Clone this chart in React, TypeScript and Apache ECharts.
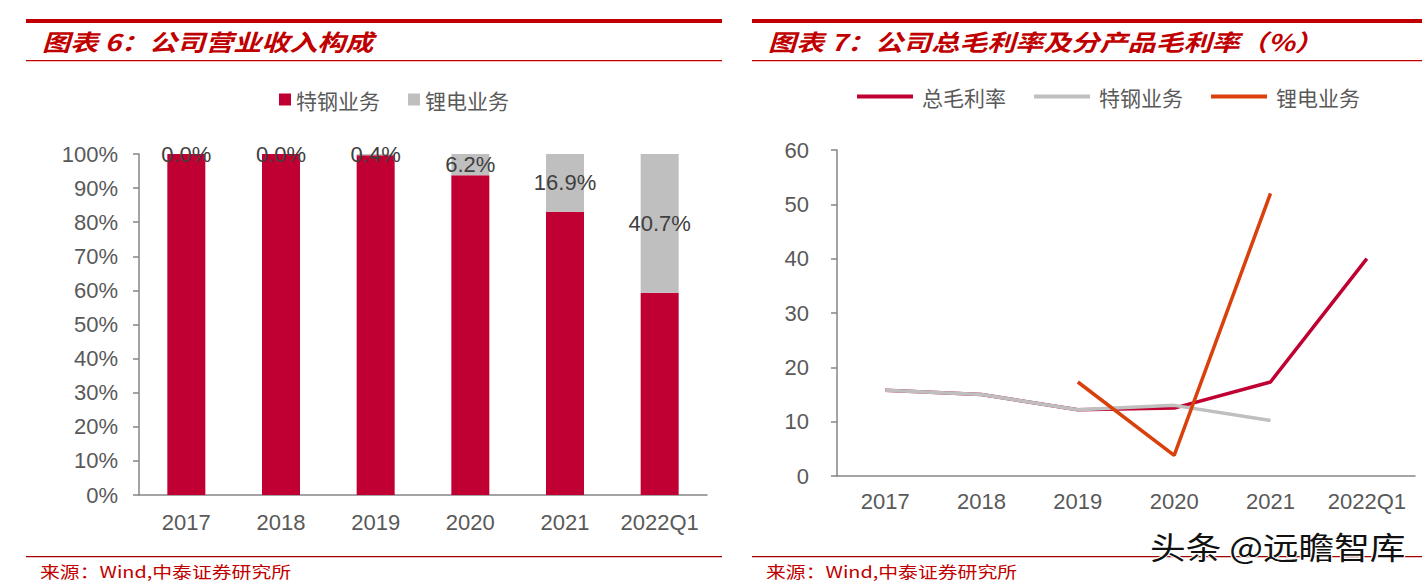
import React, { useEffect, useRef } from "react";
import * as echarts from "echarts";

const barCategories = ["2017", "2018", "2019", "2020", "2021", "2022Q1"];
const steelShare = [100, 100, 99.6, 93.8, 83.1, 59.3];
const lithiumShare = [0, 0, 0.4, 6.2, 16.9, 40.7];

const lineCategories = ["2017", "2018", "2019", "2020", "2021", "2022Q1"];
const totalMargin = [15.8, 15.0, 12.2, 12.5, 17.3, 40.0];
const steelMargin = [15.8, 15.0, 12.2, 13.0, 10.2, null];
const lithiumMargin = [null, null, 17.3, 3.8, 52.0, null];

const leftTicks = [0, 100, 10];
const rightTicks = [0, 60, 10];

const RED = "#C00032";
const GRAY = "#BFBFBF";
const ORANGE = "#D9400B";
const TITLE_RED = "#C00000";
const AXIS = "#868686";
const LABEL = "#595959";
const NUM_FONT = "'Liberation Sans', Arial, sans-serif";
const CJK_FONT = "'Noto Sans CJK SC', sans-serif";

export default function App() {
  const ref = useRef<HTMLDivElement>(null);
  useEffect(() => {
    if (!ref.current) return;
    const chart = echarts.init(ref.current, undefined, { renderer: "svg" });
    const headerText = (x: number, text: string) => ({
      type: "text",
      x,
      y: 29,
      scaleX: 1.22,
      style: {
        text,
        fill: TITLE_RED,
        font: `italic bold 23px ${CJK_FONT}`,
      },
    });
    const sourceText = (x: number) => ({
      type: "text",
      x,
      y: 563,
      scaleX: 1.24,
      style: {
        text: "来源：Wind,中泰证券研究所",
        fill: TITLE_RED,
        font: `16px ${CJK_FONT}`,
      },
    });
    const rule = (x: number, y: number, w: number, h: number, color: string) => ({
      type: "rect",
      shape: { x, y, width: w, height: h },
      style: { fill: color },
      silent: true,
    });
    const catAxis = (gridIndex: number, data: string[], margin: number) => ({
      type: "category",
      gridIndex,
      data,
      axisLine: { lineStyle: { color: AXIS, width: 1.5 } },
      axisTick: { length: 6, lineStyle: { color: AXIS, width: 1.5 } },
      axisLabel: { interval: 0, color: LABEL, fontSize: 22, fontFamily: NUM_FONT, margin },
    });
    chart.setOption({
      animation: false,
      graphic: [
        rule(26, 19, 696, 4, TITLE_RED),
        rule(26, 60, 696, 1.2, TITLE_RED),
        rule(26, 556, 696, 1.2, "#A00000"),
        rule(752, 19, 670, 4, TITLE_RED),
        rule(752, 60, 670, 1.2, TITLE_RED),
        rule(752, 556, 670, 1.2, "#A00000"),
        headerText(42, "图表 6：公司营业收入构成"),
        headerText(768, "图表 7：公司总毛利率及分产品毛利率（%）"),
        sourceText(40),
        sourceText(766),
        {
          type: "text",
          x: 1150,
          y: 530,
          scaleX: 1.15,
          z: 100,
          style: {
            text: "头条 @远瞻智库",
            fill: "#111",
            stroke: "#fff",
            lineWidth: 2,
            font: `31px ${CJK_FONT}`,
          },
        },
      ],
      legend: [
        {
          left: 274,
          top: 84,
          icon: "rect",
          itemWidth: 12,
          itemHeight: 12,
          itemGap: 28,
          data: ["特钢业务", "锂电业务"],
          textStyle: { fontSize: 21, color: LABEL, fontFamily: CJK_FONT },
        },
        {
          left: 852,
          top: 81,
          icon: "rect",
          itemWidth: 56,
          itemHeight: 4,
          itemGap: 28,
          data: ["总毛利率", "特钢业务 ", "锂电业务 "],
          formatter: (n: string) => n.trim(),
          textStyle: { fontSize: 21, color: LABEL, fontFamily: CJK_FONT, padding: [0, 0, 0, 4] },
        },
      ],
      grid: [
        { left: 139, top: 154, width: 568, height: 341 },
        { left: 837, top: 150, width: 578, height: 326 },
      ],
      xAxis: [catAxis(0, barCategories, 16), catAxis(1, lineCategories, 14)],
      yAxis: [
        {
          type: "value",
          gridIndex: 0,
          min: leftTicks[0],
          max: leftTicks[1],
          interval: leftTicks[2],
          splitLine: { show: false },
          axisLine: { show: true, lineStyle: { color: AXIS, width: 1.5 } },
          axisTick: { show: true, length: 6, lineStyle: { color: AXIS, width: 1.5 } },
          axisLabel: { color: LABEL, fontSize: 22, fontFamily: NUM_FONT, margin: 21, formatter: "{value}%" },
        },
        {
          type: "value",
          gridIndex: 1,
          min: rightTicks[0],
          max: rightTicks[1],
          interval: rightTicks[2],
          splitLine: { show: false },
          axisLine: { show: true, lineStyle: { color: AXIS, width: 1.5 } },
          axisTick: { show: true, length: 6, lineStyle: { color: AXIS, width: 1.5 } },
          axisLabel: { color: LABEL, fontSize: 22, fontFamily: NUM_FONT, margin: 28 },
        },
      ],
      series: [
        {
          name: "特钢业务",
          type: "bar",
          xAxisIndex: 0,
          yAxisIndex: 0,
          stack: "share",
          barWidth: 38,
          data: steelShare,
          itemStyle: { color: RED },
        },
        {
          name: "锂电业务",
          type: "bar",
          xAxisIndex: 0,
          yAxisIndex: 0,
          stack: "share",
          barWidth: 38,
          data: lithiumShare,
          itemStyle: { color: GRAY },
          label: {
            show: true,
            position: "inside",
            color: "#404040",
            fontSize: 22,
            fontFamily: NUM_FONT,
            formatter: (p: any) => `${Number(p.value).toFixed(1)}%`,
          },
        },
        {
          name: "总毛利率",
          type: "line",
          xAxisIndex: 1,
          yAxisIndex: 1,
          data: totalMargin,
          showSymbol: false,
          symbol: "none",
          lineStyle: { color: RED, width: 3.5 },
          itemStyle: { color: RED },
        },
        {
          name: "特钢业务 ",
          type: "line",
          xAxisIndex: 1,
          yAxisIndex: 1,
          data: steelMargin,
          showSymbol: false,
          symbol: "none",
          lineStyle: { color: GRAY, width: 3.5 },
          itemStyle: { color: GRAY },
        },
        {
          name: "锂电业务 ",
          type: "line",
          xAxisIndex: 1,
          yAxisIndex: 1,
          data: lithiumMargin,
          showSymbol: false,
          symbol: "none",
          lineStyle: { color: ORANGE, width: 3.5 },
          itemStyle: { color: ORANGE },
        },
      ],
    });
    return () => chart.dispose();
  }, []);
  return (
    <div
      ref={ref}
      style={{ position: "absolute", left: 0, top: 0, width: 1426, height: 587, background: "#fff" }}
    />
  );
}
